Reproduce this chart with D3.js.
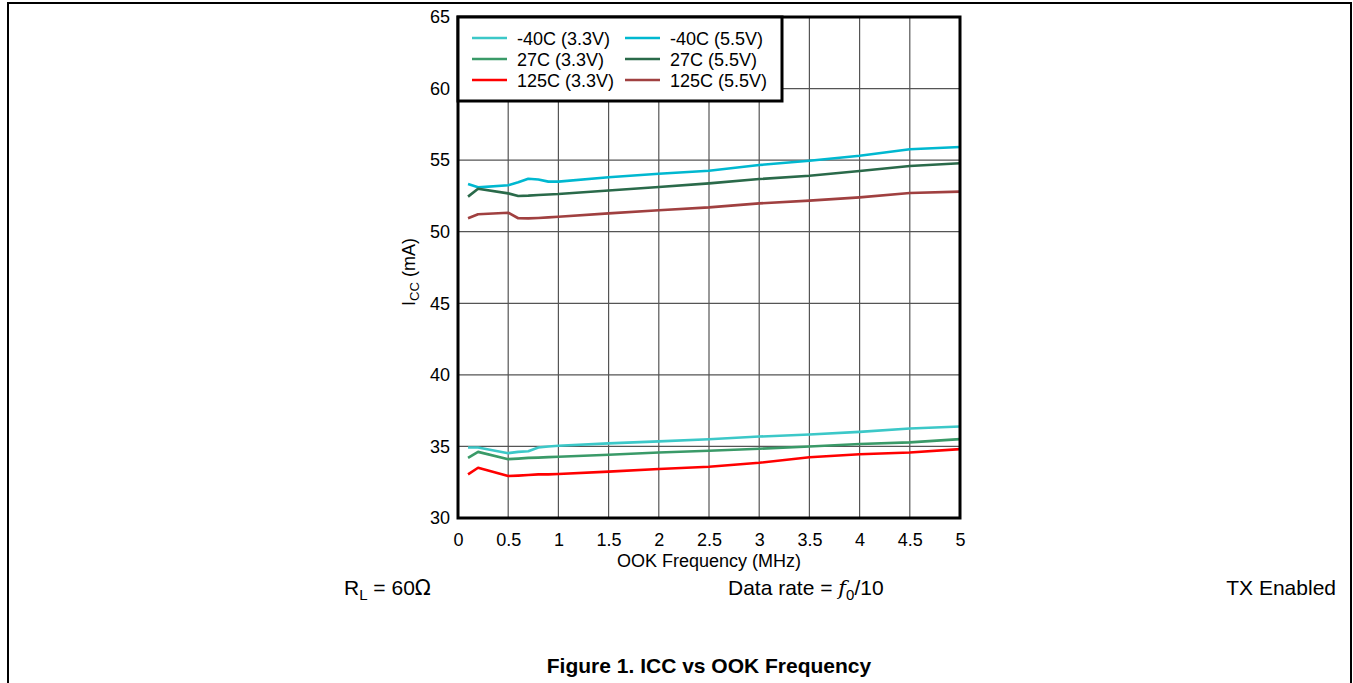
<!DOCTYPE html>
<html>
<head>
<meta charset="utf-8">
<script src="https://cdn.jsdelivr.net/npm/d3@7"></script>
<style>
	body { margin: 0; background: #fff; }
	svg { display: block; font-family: 'Liberation Sans', Arial, sans-serif; }
	.tick text { font-size: 18px; fill: #000; }
	.grid line { stroke: #555; stroke-width: 1.2; }
	.series { fill: none; stroke-width: 2.6; stroke-linejoin: round; }
	.lbl { font-size: 18px; fill: #000; }
	.note { font-size: 21px; fill: #000; }
</style>
</head>
<body>
<svg width="1353" height="683"></svg>
<script>
const freqs = [0.1, 0.2, 0.5, 0.6, 0.7, 0.8, 0.9, 1, 1.5, 2, 2.5, 3, 3.5, 4, 4.5, 5];

const seriesNames = ['-40C (3.3V)', '-40C (5.5V)', '27C (3.3V)', '27C (5.5V)', '125C (3.3V)', '125C (5.5V)'];
const seriesColors = ['#3cc8c8', '#00b8d0', '#3a9a68', '#2a6a4a', '#ff0000', '#a04040'];

const m40_33 = [34.92, 34.92, 34.53, 34.62, 34.66, 34.92, 35.0, 35.05, 35.21, 35.35, 35.5, 35.69, 35.83, 36.02, 36.25, 36.39];
const m40_55 = [53.33, 53.1, 53.25, 53.45, 53.7, 53.65, 53.5, 53.5, 53.8, 54.05, 54.26, 54.66, 54.96, 55.31, 55.76, 55.92];
const t27_33 = [34.2, 34.62, 34.11, 34.15, 34.2, 34.22, 34.25, 34.28, 34.42, 34.58, 34.7, 34.84, 35.0, 35.17, 35.28, 35.51];
const t27_55 = [52.45, 53.0, 52.68, 52.5, 52.52, 52.56, 52.6, 52.63, 52.88, 53.12, 53.38, 53.68, 53.91, 54.24, 54.59, 54.78];
const t125_33 = [33.05, 33.51, 32.93, 32.96, 33.0, 33.05, 33.05, 33.07, 33.24, 33.42, 33.58, 33.86, 34.24, 34.45, 34.58, 34.81];
const t125_55 = [50.94, 51.22, 51.33, 50.94, 50.93, 50.96, 51.0, 51.05, 51.28, 51.5, 51.7, 51.98, 52.17, 52.4, 52.7, 52.8];

const seriesValues = [m40_33, m40_55, t27_33, t27_55, t125_33, t125_55];

const xTicks = [0, 0.5, 1, 1.5, 2, 2.5, 3, 3.5, 4, 4.5, 5];
const yTicks = [30, 35, 40, 45, 50, 55, 60, 65];

const svg = d3.select('svg');

const plot = { left: 458, top: 17, right: 960, bottom: 518 };

const x = d3.scaleLinear().domain([0, 5]).range([plot.left, plot.right]);
const y = d3.scaleLinear().domain([30, 65]).range([plot.bottom, plot.top]);

// page frame
svg.append('path')
	.attr('d', 'M 8 683 V 3 H 1351 V 683')
	.attr('fill', 'none')
	.attr('stroke', '#000')
	.attr('stroke-width', 2);

// grid
const grid = svg.append('g').attr('class', 'grid');
grid.selectAll('.vx')
	.data(xTicks.slice(1, -1))
	.enter()
	.append('line')
	.attr('x1', (d) => x(d))
	.attr('x2', (d) => x(d))
	.attr('y1', plot.top)
	.attr('y2', plot.bottom);
grid.selectAll('.hy')
	.data(yTicks.slice(1, -1))
	.enter()
	.append('line')
	.attr('x1', plot.left)
	.attr('x2', plot.right)
	.attr('y1', (d) => y(d))
	.attr('y2', (d) => y(d));

// axes (labels only, the box is drawn separately)
const xAxis = d3.axisBottom(x).tickValues(xTicks).tickSize(0).tickPadding(15).tickFormat(d3.format('~g'));
svg.append('g')
	.attr('transform', `translate(0 ${plot.bottom})`)
	.call(xAxis)
	.call((g) => g.select('.domain').remove());

const yAxis = d3.axisLeft(y).tickValues(yTicks).tickSize(0).tickPadding(8);
svg.append('g')
	.attr('transform', `translate(${plot.left} 0)`)
	.call(yAxis)
	.call((g) => g.select('.domain').remove());

// series
const line = d3.line()
	.x((d, i) => x(freqs[i]))
	.y((d) => y(d));

svg.selectAll('.series')
	.data(seriesValues)
	.enter()
	.append('path')
	.attr('class', 'series')
	.attr('stroke', (d, i) => seriesColors[i])
	.attr('d', line);

// plot box
svg.append('rect')
	.attr('x', plot.left)
	.attr('y', plot.top)
	.attr('width', plot.right - plot.left)
	.attr('height', plot.bottom - plot.top)
	.attr('fill', 'none')
	.attr('stroke', '#000')
	.attr('stroke-width', 3);

// legend
const legend = svg.append('g');
legend.append('rect')
	.attr('x', plot.left)
	.attr('y', plot.top)
	.attr('width', 324)
	.attr('height', 84)
	.attr('fill', '#fff')
	.attr('stroke', '#000')
	.attr('stroke-width', 3);

const items = legend.selectAll('.item')
	.data(seriesNames)
	.enter()
	.append('g')
	.attr('transform', (d, i) => `translate(${i % 2 ? 625 : 472} ${38 + Math.floor(i / 2) * 21})`);

items.append('line')
	.attr('x1', 0)
	.attr('x2', 35)
	.attr('stroke', (d, i) => seriesColors[i])
	.attr('stroke-width', 2.6);

items.append('text')
	.text((d) => d)
	.attr('class', 'lbl')
	.attr('x', 45)
	.attr('y', 6.5);

// axis titles
const yTitle = svg.append('text')
	.attr('class', 'lbl')
	.attr('text-anchor', 'middle')
	.attr('transform', 'translate(415 272) rotate(-90)');
yTitle.append('tspan').text('I');
yTitle.append('tspan').text('CC').attr('font-size', 13).attr('dy', 4);
yTitle.append('tspan').text(' (mA)').attr('dy', -4);

svg.append('text')
	.attr('class', 'lbl')
	.attr('text-anchor', 'middle')
	.attr('x', (plot.left + plot.right) / 2)
	.attr('y', 567)
	.text('OOK Frequency (MHz)');

// conditions
const rl = svg.append('text').attr('class', 'note').attr('x', 344).attr('y', 595);
rl.append('tspan').text('R');
rl.append('tspan').text('L').attr('font-size', 15).attr('dy', 5);
rl.append('tspan').text(' = 60').attr('dy', -5);
rl.append('tspan').text('Ω').attr('font-family', 'DejaVu Sans');

const dr = svg.append('text').attr('class', 'note').attr('x', 728).attr('y', 595);
dr.append('tspan').text('Data rate = ');
dr.append('tspan').text('f').attr('font-style', 'italic').attr('font-family', 'DejaVu Serif');
dr.append('tspan').text('0').attr('font-size', 15).attr('dy', 5);
dr.append('tspan').text('/10').attr('dy', -5);

svg.append('text')
	.attr('class', 'note')
	.attr('text-anchor', 'end')
	.attr('x', 1336)
	.attr('y', 595)
	.text('TX Enabled');

svg.append('text')
	.attr('text-anchor', 'middle')
	.attr('x', 709)
	.attr('y', 673)
	.attr('font-size', 21)
	.attr('font-weight', 'bold')
	.text('Figure 1. ICC vs OOK Frequency');
</script>
</body>
</html>
